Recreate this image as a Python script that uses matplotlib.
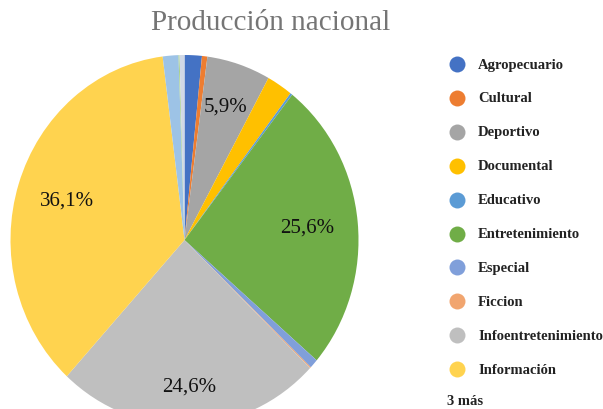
import matplotlib
matplotlib.use("Agg")
import matplotlib.pyplot as plt
import numpy as np

categories = ["Agropecuario", "Cultural", "Deportivo", "Documental", "Educativo",
              "Entretenimiento", "Especial", "Ficcion", "Infoentretenimiento",
              "Información", "Infantil", "Musical", "Otros"]
values = [1.6, 0.5, 5.9, 2.4, 0.2, 25.6, 0.8, 0.1, 24.6, 36.1, 1.45, 0.1, 0.45]
colors = ["#4472C4", "#ED7D31", "#A5A5A5", "#FFC000", "#5B9BD5", "#70AD47",
          "#809FDA", "#F1A56F", "#BFBFBF", "#FFD34F", "#9DC3E6", "#A9D18E", "#D0D8E6"]
legend_shown = 10
more_label = "3 más"
title = "Producción nacional"

W, H = 603, 410
fig = plt.figure(figsize=(W / 100, H / 100), dpi=100)

# pie axes (slightly taller than wide, as in the reference)
cx, cy, rx, ry = 184.5, 241, 174, 185
ax = fig.add_axes([(cx - rx) / W, (H - cy - ry) / H, 2 * rx / W, 2 * ry / H])
wedges, _ = ax.pie(values, colors=colors, startangle=90, counterclock=False,
                   radius=1, wedgeprops=dict(linewidth=0))
ax.set_aspect("auto")
ax.set_xlim(-1, 1)
ax.set_ylim(-1, 1)
ax.axis("off")

serif = ["Liberation Serif", "DejaVu Serif"]
total = sum(values)
label_dist = {2: 0.76, 5: 0.71, 8: 0.79, 9: 0.71}
for i, w in enumerate(wedges):
    pct = values[i] / total * 100
    if pct < 5:
        continue
    th = np.deg2rad((w.theta1 + w.theta2) / 2)
    d = label_dist.get(i, 0.72)
    ax.text(d * np.cos(th), d * np.sin(th),
            f"{values[i]:.1f}%".replace(".", ","),
            ha="center", va="center", fontsize=15, family=serif, color="#111111")

# overlay axes in pixel coordinates for title and legend
ov = fig.add_axes([0, 0, 1, 1], facecolor="none")
ov.set_xlim(0, W)
ov.set_ylim(0, H)
ov.axis("off")

ov.text(271, H - 23, title, ha="center", va="center",
        fontsize=21, family=serif, color="#757575")

y0, dy = 65, 33.9
for i in range(legend_shown):
    y = H - (y0 + i * dy)
    ov.plot([457], [y], marker="o", markersize=11.5, color=colors[i],
            markeredgewidth=0, clip_on=False)
    ov.text(478, y, categories[i], ha="left", va="center", fontsize=10.5,
            family=serif, fontweight="bold", color="#222222")
ov.text(447, H - 402, more_label, ha="left", va="center", fontsize=10.5,
        family=serif, fontweight="bold", color="#222222")

fig.savefig("out.png", dpi=100)
